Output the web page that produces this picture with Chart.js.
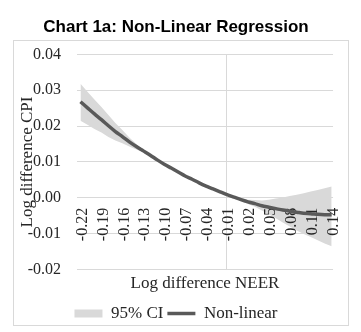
<!DOCTYPE html>
<html>
<head>
<meta charset="utf-8">
<script src="https://cdn.jsdelivr.net/npm/chart.js@4.4.1/dist/chart.umd.min.js"></script>
<style>
  html, body { margin: 0; padding: 0; background: #fff; }
  #wrap { width: 361px; height: 332px; }
</style>
</head>
<body>
<div id="wrap"><canvas id="regChart"></canvas></div>
<script>
// log difference NEER (x) and fitted log difference CPI
const neer = [-0.22, -0.21, -0.20, -0.19, -0.18, -0.17, -0.16, -0.15, -0.14, -0.13,
  -0.12, -0.11, -0.10, -0.09, -0.08, -0.07, -0.06, -0.05, -0.04, -0.03,
  -0.02, -0.01, 0.00, 0.01, 0.02, 0.03, 0.04, 0.05, 0.06, 0.07,
  0.08, 0.09, 0.10, 0.11, 0.12, 0.13, 0.14];
const nonLinear = [0.0268, 0.0251, 0.0234, 0.0218, 0.0201, 0.0185, 0.0171, 0.0156, 0.0143, 0.0131,
  0.0119, 0.0106, 0.0094, 0.0083, 0.0072, 0.0061, 0.0052, 0.0042, 0.0033, 0.0025,
  0.0017, 0.0009, 0.0002, -0.0005, -0.0011, -0.0016, -0.0022, -0.0026, -0.0030, -0.0034,
  -0.0037, -0.0040, -0.0043, -0.0044, -0.0046, -0.0047, -0.0047];
const ciUpper = [0.0318, 0.0296, 0.0274, 0.0253, 0.0231, 0.0209, 0.0189, 0.0168, 0.0150, 0.0135,
  0.0122, 0.0109, 0.0097, 0.0086, 0.0075, 0.0064, 0.0055, 0.0045, 0.0036, 0.0028,
  0.0020, 0.0012, 0.0005, -0.0001, -0.0005, -0.0006, -0.0007, -0.0005, -0.0002, 0.0001,
  0.0005, 0.0009, 0.0013, 0.0018, 0.0022, 0.0027, 0.0032];
const ciLower = [0.0215, 0.0204, 0.0192, 0.0182, 0.0170, 0.0160, 0.0152, 0.0143, 0.0135, 0.0127,
  0.0116, 0.0103, 0.0091, 0.0080, 0.0069, 0.0058, 0.0049, 0.0039, 0.0030, 0.0022,
  0.0014, 0.0006, -0.0001, -0.0009, -0.0017, -0.0025, -0.0035, -0.0046, -0.0057, -0.0069,
  -0.0080, -0.0091, -0.0101, -0.0109, -0.0118, -0.0127, -0.0135];
const xTicks = [-0.22, -0.19, -0.16, -0.13, -0.10, -0.07, -0.04, -0.01, 0.02, 0.05, 0.08, 0.11, 0.14];

const serif = 'Liberation Serif';
const gridGray = '#d9d9d9';
const textGray = '#262626';

// light grey frame round the plot, below the title
const framePlugin = {
    id: 'frame',
    beforeDraw(chart) {
        const c = chart.ctx;
        c.save();
        c.strokeStyle = '#d9d9d9';
        c.lineWidth = 1;
        c.strokeRect(13.5, 40.5, 335, 285);
        c.restore();
    }
};

const ctx = document.getElementById('regChart').getContext('2d');
const regChart = new Chart(ctx, {
    type: 'line',
    data: {
        labels: neer,
        datasets: [
            {
                label: '95% CI',
                data: ciUpper,
                borderWidth: 0,
                backgroundColor: '#d9d9d9',
                pointRadius: 0,
                pointStyle: 'rect',
                fill: '+1',
            },
            {
                label: 'ci-lower',
                data: ciLower,
                borderWidth: 0,
                backgroundColor: '#d9d9d9',
                pointRadius: 0,
                fill: false,
            },
            {
                label: 'Non-linear',
                data: nonLinear,
                borderColor: '#595959',
                backgroundColor: '#595959',
                borderWidth: 3.5,
                pointRadius: 0,
                pointStyle: 'line',
                tension: 0.3,
                fill: false,
            },
        ],
    },
    options: {
        responsive: true,
        maintainAspectRatio: false,
        animation: false,
        layout: {
            padding: { left: 13, right: 22, top: 0, bottom: 0 },
        },
        plugins: {
            filler: { drawTime: 'beforeDraw' },
            tooltip: { enabled: false },
            title: {
                display: true,
                text: 'Chart 1a: Non-Linear Regression',
                color: '#000',
                font: { family: 'Liberation Sans', size: 17, weight: 'bold' },
                padding: { top: 17, bottom: 17 },
            },
            legend: {
                display: true,
                position: 'bottom',
                labels: {
                    filter: (item) => item.text !== 'ci-lower',
                    usePointStyle: true,
                    pointStyleWidth: 28,
                    boxHeight: 8,
                    padding: 4,
                    color: textGray,
                    font: { family: serif, size: 17 },
                },
            },
        },
        scales: {
            x: {
                type: 'linear',
                position: { y: 0 },
                min: -0.225,
                max: 0.142,
                afterBuildTicks: (scale) => {
                    scale.ticks = xTicks.map(v => ({ value: v }));
                },
                grid: {
                    drawTicks: false,
                    color: (c) => (c.tick && Math.abs(c.tick.value + 0.01) < 1e-9) ? gridGray : 'rgba(0,0,0,0)',
                },
                border: { display: false },
                ticks: {
                    autoSkip: false,
                    minRotation: 90,
                    maxRotation: 90,
                    padding: 10,
                    labelOffset: 2,
                    color: textGray,
                    font: { family: serif, size: 16 },
                    callback: (v) => Number(v).toFixed(2),
                },
            },
            x2: {
                type: 'linear',
                position: 'bottom',
                grid: { display: false, drawTicks: false },
                border: { display: false },
                ticks: { display: false },
                title: {
                    display: true,
                    text: 'Log difference NEER',
                    color: textGray,
                    font: { family: serif, size: 17 },
                    padding: { top: 4, bottom: 7 },
                },
            },
            y: {
                min: -0.02,
                max: 0.04,
                afterFit: (scale) => { scale.width = 64; },
                grid: { drawTicks: false, color: gridGray },
                border: { display: false },
                ticks: {
                    stepSize: 0.01,
                    padding: 16,
                    color: textGray,
                    font: { family: serif, size: 16 },
                    callback: (v) => Number(v).toFixed(2),
                },
                title: {
                    display: true,
                    text: 'Log difference CPI',
                    color: textGray,
                    font: { family: serif, size: 17 },
                    padding: { top: 4, bottom: 0 },
                },
            },
        },
    },
    plugins: [framePlugin],
});
</script>
</body>
</html>
